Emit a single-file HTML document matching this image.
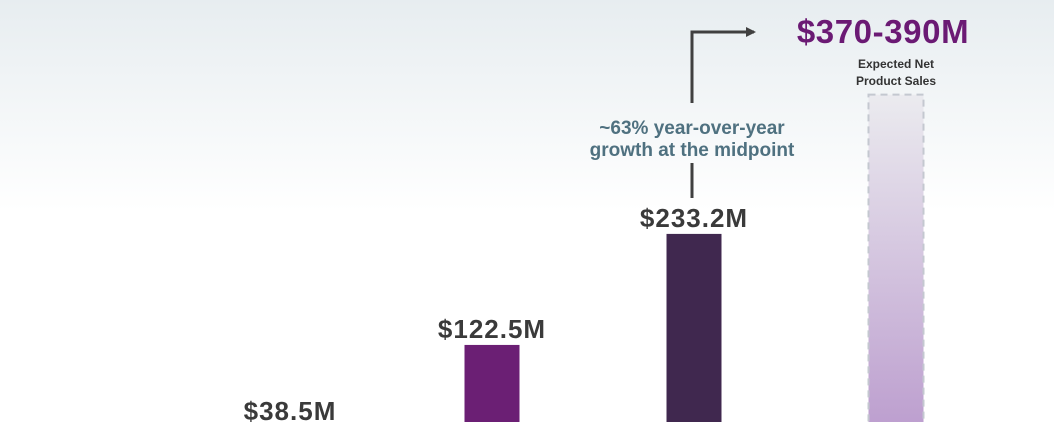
<!DOCTYPE html>
<html><head><meta charset="utf-8"><style>
html,body{margin:0;padding:0;width:1054px;height:422px;overflow:hidden;}
svg{display:block;overflow:hidden;font-family:"Liberation Sans",sans-serif;}
</style></head><body>
<svg id="chart" width="1054" height="422" viewBox="0 0 1054 422">
<defs>
<linearGradient id="bg" x1="0" y1="0" x2="0" y2="1">
<stop offset="0" stop-color="#e7edf0"/><stop offset="0.5" stop-color="#ffffff"/><stop offset="1" stop-color="#ffffff"/>
</linearGradient>
<linearGradient id="proj" x1="0" y1="0" x2="0" y2="1">
<stop offset="0" stop-color="#ebebef"/><stop offset="1" stop-color="#bd9fcf"/>
</linearGradient>
<marker id="ah" markerWidth="10" markerHeight="10" refX="8" refY="5" orient="auto" markerUnits="userSpaceOnUse">
<path d="M0,0 L10,5 L0,10 z" fill="#404040"/>
</marker>
</defs>
<rect x="0" y="0" width="1054" height="422" fill="url(#bg)"/>
<g id="bars"></g>
<g stroke="#404040" stroke-width="3" fill="none">
<line x1="692" y1="198" x2="692" y2="163"/>
<polyline points="692,103 692,32 754,32" marker-end="url(#ah)"/>
</g>
<text x="692" y="134" text-anchor="middle" font-size="19" font-weight="bold" fill="#4f7180">~63% year-over-year</text>
<text x="692" y="156" text-anchor="middle" font-size="19" font-weight="bold" fill="#4f7180">growth at the midpoint</text>
<text x="883" y="43" text-anchor="middle" font-size="33" font-weight="bold" letter-spacing="0.6" fill="#6b1a74">$370-390M</text>
<text x="896" y="68" text-anchor="middle" font-size="12" font-weight="bold" fill="#333">Expected Net</text>
<text x="896" y="85" text-anchor="middle" font-size="12" font-weight="bold" fill="#333">Product Sales</text>
</svg>
<script>
const categories = ["Year 1", "Year 2", "Year 3", "Guidance"];
const values = [38.5, 122.5, 233.2, 372];
const labels = ["$38.5M", "$122.5M", "$233.2M", ""];
const colors = ["#6b1f74", "#6b1f74", "#40284f", "url(#proj)"];
const NS = "http://www.w3.org/2000/svg";
const baseY = 467.8, k = 1.003, frameBottom = 422;
function yScale(v){ return baseY - k * v; }
function xCenter(i){ return 290 + i * 202; }
const g = document.getElementById("bars");
const bw = 55;
values.forEach((v, i) => {
  const top = yScale(v);
  if (top < frameBottom) {
    const r = document.createElementNS(NS, "rect");
    
    
    r.setAttribute("x", xCenter(i) - bw / 2);
    r.setAttribute("y", top);
    r.setAttribute("width", bw);
    r.setAttribute("height", (i === 3 ? frameBottom + 3 : frameBottom) - top);
    r.setAttribute("fill", colors[i]);
    if (i === 3) {
      r.setAttribute("stroke", "#c4c8d0");
      r.setAttribute("stroke-width", "2");
      r.setAttribute("stroke-dasharray", "7,5");
    }
    g.appendChild(r);
  }
  if (labels[i]) {
    const t = document.createElementNS(NS, "text");
    
    
    t.setAttribute("x", xCenter(i));
    t.setAttribute("y", Math.min(top - 7, 420));
    t.setAttribute("text-anchor", "middle");
    t.setAttribute("font-size", "26");
    t.setAttribute("font-weight", "bold");
    t.setAttribute("letter-spacing", "1");
    t.setAttribute("fill", "#3a3a3a");
    t.textContent = labels[i];
    g.appendChild(t);
  }
});
</script>
</body></html>
